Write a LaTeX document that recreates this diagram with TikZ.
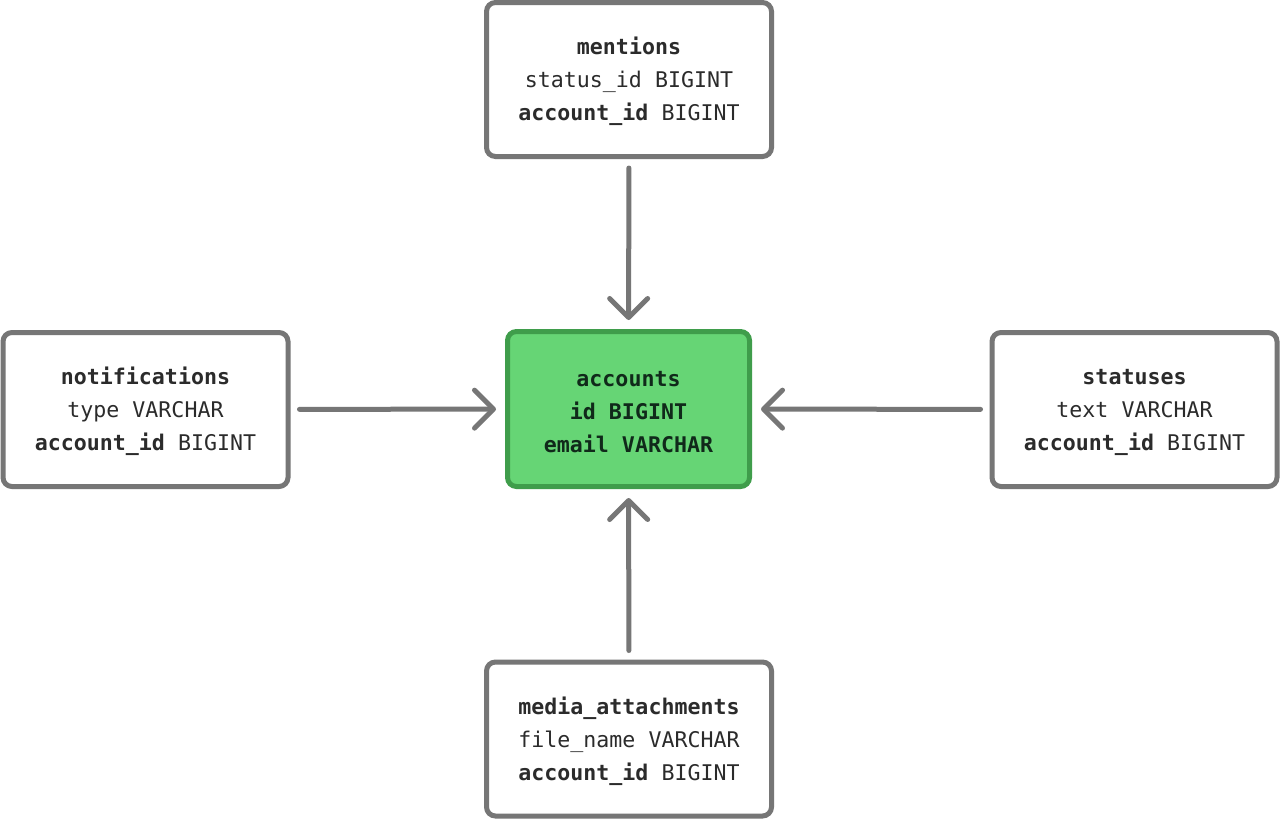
\documentclass[tikz,border=0pt]{standalone}
\usepackage{fontspec}
\setmonofont{DejaVu Sans Mono}
\usepackage{xcolor}
\usepackage{tikz}
\usetikzlibrary{arrows.meta, positioning}

\definecolor{boxgray}{HTML}{767676}
\definecolor{textgray}{HTML}{2B2B2B}
\definecolor{keyfill}{HTML}{66D575}
\definecolor{keyborder}{HTML}{3F9D4B}
\definecolor{keytext}{HTML}{10291A}

% table title line, with a strut so the text block sits lower
\newcommand{\tabtitle}[1]{\rule{0pt}{22pt}\textbf{#1}}

\begin{document}
\begin{tikzpicture}[x=1pt,y=-1pt,
  table/.style={draw=boxgray, line width=5pt, rounded corners=9pt, fill=white,
    minimum width=285pt, minimum height=154pt, align=center, text=textgray,
    font=\ttfamily\fontsize{21.6}{33}\selectfont},
  keytable/.style={table, draw=keyborder, fill=keyfill, text=keytext,
    minimum width=242pt, minimum height=155pt},
  link/.style={draw=boxgray, line width=5pt, line cap=round,
    -{Straight Barb[length=19pt,width=38pt,round]},
    shorten <=9pt, shorten >=9pt}]
  % Canvas
  \fill[white] (0,0) rectangle (1280,819);
  \useasboundingbox (0,0) rectangle (1280,819);

  % Central table
  \node[keytable] (accounts) at (628.5,409)
    {\tabtitle{accounts}\\ \textbf{id BIGINT}\\ \textbf{email VARCHAR}};

  % Tables that point to accounts
  \node[table] (mentions) at (629,79.5)
    {\tabtitle{mentions}\\ status\_id BIGINT\\ \textbf{account\_id} BIGINT};
  \node[table] (notifications) at (145.5,409.5)
    {\tabtitle{notifications}\\ type VARCHAR\\ \textbf{account\_id} BIGINT};
  \node[table] (statuses) at (1134.5,409.5)
    {\tabtitle{statuses}\\ text VARCHAR\\ \textbf{account\_id} BIGINT};
  \node[table] (media) at (629,739)
    {\tabtitle{media\_attachments}\\ file\_name VARCHAR\\ \textbf{account\_id} BIGINT};

  % Foreign keys
  \draw[link] (mentions) -- (accounts);
  \draw[link] (notifications) -- (accounts);
  \draw[link] (statuses) -- (accounts);
  \draw[link] (media) -- (accounts);
\end{tikzpicture}
\end{document}
